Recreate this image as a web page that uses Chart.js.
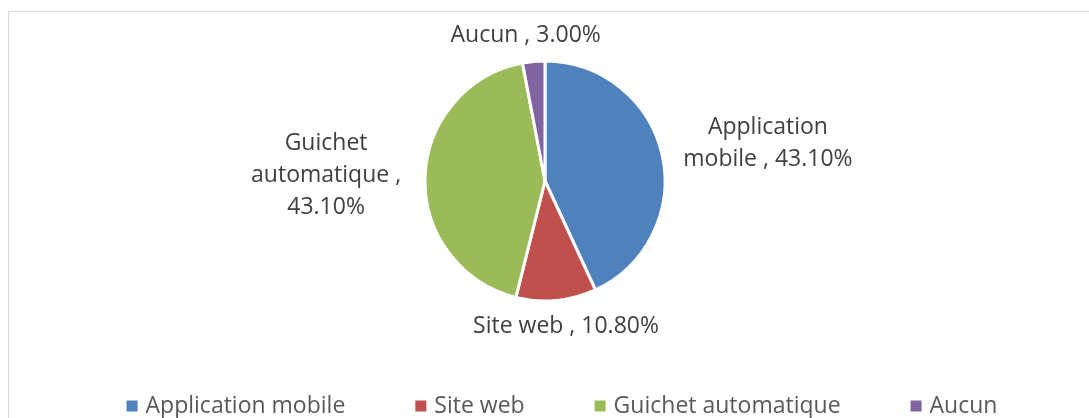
<!DOCTYPE html>
<html>
<head>
<meta charset="utf-8">
<script src="https://cdn.jsdelivr.net/npm/chart.js@4"></script>
<style>
  body { margin: 0; background: #fff; }
  #cadre { position: absolute; left: 8px; top: 11px; width: 1100px; height: 430px; border: 1px solid #d9d9d9; box-sizing: border-box; }
  #zone { position: absolute; left: 0; top: 0; width: 1089px; height: 418px; }
</style>
</head>
<body>
<div id="cadre"></div>
<div id="zone"><canvas id="graphique"></canvas></div>
<script>
// --- Données ---
const categories = ['Application mobile', 'Site web', 'Guichet automatique', 'Aucun'];
const pourcentages = [43.10, 10.80, 43.10, 3.00];
const couleurs = ['#4F81BD', '#C0504D', '#9BBB59', '#8064A2'];

const police = "'Open Sans', sans-serif";
const taillePolice = 23;

// Découpe un texte en lignes selon une largeur max
function couperTexte(ctx, texte, largeurMax) {
    const mots = texte.split(' ');
    const lignes = [];
    let ligne = '';
    mots.forEach(mot => {
        const essai = ligne ? ligne + ' ' + mot : mot;
        if (ligne && ctx.measureText(essai).width > largeurMax) {
            lignes.push(ligne);
            ligne = mot;
        } else {
            ligne = essai;
        }
    });
    if (ligne) lignes.push(ligne);
    return lignes;
}

// Étiquettes de données à l'extérieur des parts
const etiquettesPlugin = {
    id: 'etiquettes',
    afterDatasetsDraw(chart) {
        const ctx = chart.ctx;
        const arcs = chart.getDatasetMeta(0).data;
        const hauteurLigne = 32;
        ctx.save();
        ctx.font = `${taillePolice}px ${police}`;
        ctx.fillStyle = '#404040';
        ctx.textAlign = 'center';
        ctx.textBaseline = 'middle';
        arcs.forEach((arc, i) => {
            const { x, y, startAngle, endAngle, outerRadius } = arc.getProps(['x', 'y', 'startAngle', 'endAngle', 'outerRadius'], true);
            const milieu = (startAngle + endAngle) / 2;
            const dx = Math.cos(milieu);
            const dy = Math.sin(milieu);
            const texte = `${categories[i]} , ${pourcentages[i].toFixed(2)}%`;
            const largeurMax = Math.abs(dx) > 0.7 ? 185 : 400;
            const lignes = couperTexte(ctx, texte, largeurMax);
            const w = Math.max(...lignes.map(l => ctx.measureText(l).width));
            const h = lignes.length * hauteurLigne;
            const ecart = 9 + 15 * Math.abs(dx);
            const ax = x + dx * (outerRadius + ecart);
            const ay = y + dy * (outerRadius + ecart);
            const cx = ax + dx * w / 2;
            const cy = ay + dy * h / 2;
            lignes.forEach((l, k) => {
                ctx.fillText(l, cx, cy - h / 2 + hauteurLigne * (k + 0.5));
            });
        });
        ctx.restore();
    }
};

// Légende en bas, style Excel
const legendePlugin = {
    id: 'legende',
    afterDraw(chart) {
        const ctx = chart.ctx;
        const boite = 11;
        const ecart = 8;
        const espace = 70;
        ctx.save();
        ctx.font = `${taillePolice}px ${police}`;
        ctx.textBaseline = 'middle';
        const largeurs = categories.map(c => boite + ecart + ctx.measureText(c).width);
        const total = largeurs.reduce((a, b) => a + b, 0) + espace * (categories.length - 1);
        let xPos = 562 - total / 2;
        const yPos = 406;
        categories.forEach((c, i) => {
            ctx.fillStyle = couleurs[i];
            ctx.fillRect(xPos, yPos - boite / 2, boite, boite);
            ctx.fillStyle = '#595959';
            ctx.fillText(c, xPos + boite + ecart, yPos);
            xPos += largeurs[i] + espace;
        });
        ctx.restore();
    }
};

new Chart(document.getElementById('graphique'), {
    type: 'pie',
    data: {
        labels: categories,
        datasets: [{
            data: pourcentages,
            backgroundColor: couleurs,
            borderColor: '#ffffff',
            borderWidth: 3,
            hoverOffset: 0
        }]
    },
    options: {
        responsive: true,
        maintainAspectRatio: false,
        animation: false,
        radius: 120,
        layout: { padding: { left: 1, right: 0, top: 0, bottom: 56 } },
        plugins: {
            legend: { display: false },
            tooltip: { enabled: false }
        }
    },
    plugins: [etiquettesPlugin, legendePlugin]
});
</script>
</body>
</html>
